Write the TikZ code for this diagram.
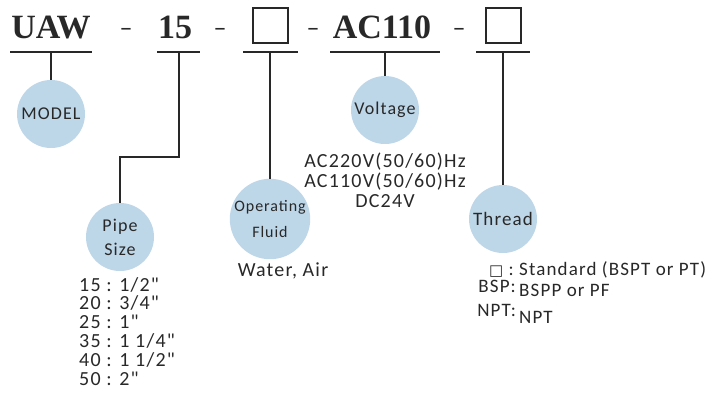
\documentclass[tikz,border=0pt]{standalone}
\usepackage{fontspec}
\setmainfont{Carlito}[LetterSpace=6, Ligatures=TeXOff]
\newfontfamily\titlefont{Liberation Serif}
\newfontfamily\symfont{DejaVu Sans}
\definecolor{bubbleblue}{RGB}{189,214,232}
\definecolor{inkgray}{RGB}{40,40,40}
\tikzset{
  bubble/.style={circle, fill=bubbleblue, minimum size=68pt, inner sep=0pt, align=center, text=inkgray},
  codepart/.style={font=\titlefont\bfseries\fontsize{34}{34}\selectfont, anchor=base, inner sep=0pt, text=inkgray},
  joiner/.style={font=\fontsize{26}{26}\selectfont, anchor=base, inner sep=0pt, text=inkgray},
  codebox/.style={draw=inkgray, line width=1.3pt, minimum size=35pt, inner sep=0pt},
  uline/.style={line width=1.2pt, draw=inkgray},
  lead/.style={line width=1.2pt, draw=inkgray},
  info/.style={font=\fontsize{20}{20}\selectfont, inner sep=0pt, text=inkgray},
  threadinfo/.style={info, font=\fontsize{19}{19}\selectfont}
}
\begin{document}
\begin{tikzpicture}[x=1pt,y=-1pt]
\useasboundingbox (0,0) rectangle (714,392);
\node[codepart] (uaw) at (51,38) {UAW};
\node[joiner] (j1) at (126,36) {–};
\node[codepart] (size) at (175,38) {15};
\node[joiner] (j2) at (220,36) {–};
\node[codebox] (fluidbox) at (270.5,25.5) {};
\node[joiner] (j3) at (313,36) {–};
\node[codepart] (volt) at (382,38) {AC110};
\node[joiner] (j4) at (459,36) {–};
\node[codebox] (threadbox) at (503.5,25.5) {};
\draw[uline] (10,52) -- (92,52);
\draw[uline] (157,52) -- (200,52);
\draw[uline] (243,52) -- (298,52);
\draw[uline] (330,52) -- (440,52);
\draw[uline] (476,52) -- (530,52);
\coordinate (uaw-u) at (51,52);
\coordinate (size-u) at (179,52);
\coordinate (size-bend) at (179,157);
\coordinate (fluid-u) at (270,52);
\coordinate (volt-u) at (385,52);
\coordinate (thread-u) at (503,52);
\node[bubble, font=\fontsize{18}{18}\selectfont] (model) at (51,114) {MODEL};
\node[bubble, font=\fontsize{18}{24}\selectfont] (pipe) at (120,237) {Pipe\\Size};
\node[bubble, font=\fontsize{16}{26}\selectfont] (fluid) at (270,219) {Operating\\Fluid};
\node[bubble, font=\fontsize{18}{18}\selectfont] (voltage) at (385,110) {Voltage};
\node[bubble, font=\fontsize{19}{19}\selectfont] (thread) at (503,219) {Thread};
\draw[lead] (uaw-u) -- (model);
\draw[lead] (size-u) -- (size-bend) -| (pipe);
\draw[lead] (fluid-u) -- (fluid);
\draw[lead] (volt-u) -- (voltage);
\draw[lead] (thread-u) -- (thread);
\foreach \row [count=\i] in {15 : 1/2", 20 : 3/4", 25 : 1", 35 : 1 1/4", 40 : 1 1/2", 50 : 2"}
  \node[info, anchor=base west] (pipe-\i) at (79,{291+(\i-1)*18.8}) {\row};
\node[info, anchor=base] (media) at (283,276) {Water, Air};
\node[info, anchor=base] (v220) at (385,167) {AC220V(50/60)Hz};
\node[info, anchor=base] (v110) at (385,187) {AC110V(50/60)Hz};
\node[info, anchor=base] (v24) at (385,207) {DC24V};
\node[threadinfo, anchor=base east] (std-key) at (514,275) {{\symfont\fontsize{15}{15}\selectfont □} :};
\node[threadinfo, anchor=base west] (std-val) at (519,275) {Standard (BSPT or PT)};
\node[threadinfo, anchor=base east] (bsp-key) at (516,292) {BSP:};
\node[threadinfo, anchor=base west] (bsp-val) at (519,296) {BSPP or PF};
\node[threadinfo, anchor=base east] (npt-key) at (516,316) {NPT:};
\node[threadinfo, anchor=base west] (npt-val) at (519,323) {NPT};
\end{tikzpicture}
\end{document}
